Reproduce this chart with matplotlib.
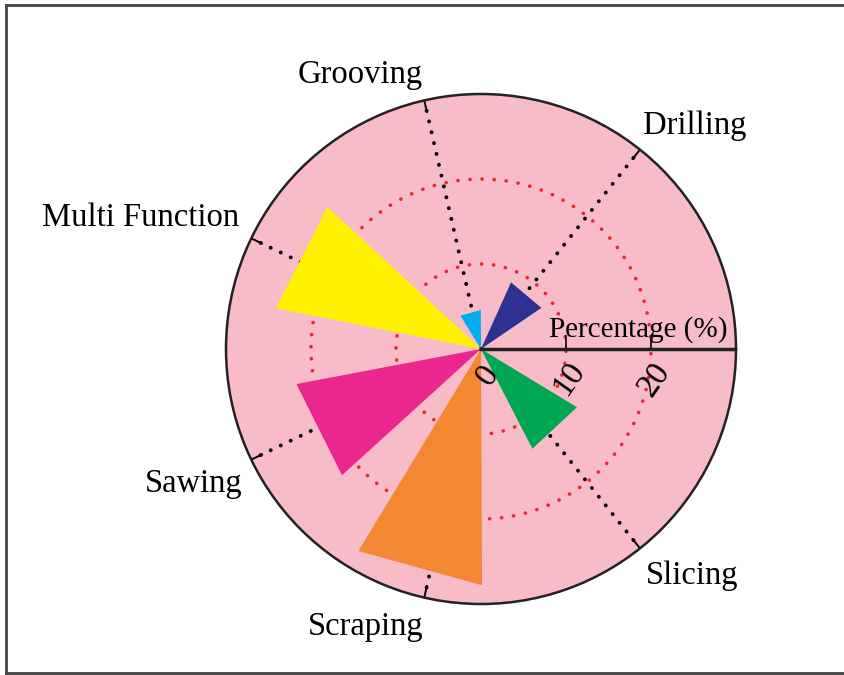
import numpy as np
import matplotlib
matplotlib.use("Agg")
import matplotlib.pyplot as plt
from matplotlib.lines import Line2D
from matplotlib.markers import TICKUP

plt.rcParams['font.family'] = ['Liberation Serif', 'DejaVu Serif']
plt.rcParams['lines.scale_dashes'] = False

# data
categories = ['Drilling', 'Grooving', 'Multi Function', 'Sawing', 'Scraping', 'Slicing']
percent = [8.6, 4.6, 24.6, 22.1, 27.8, 13.2]
bar_angle = [50, 106, 153, 206.5, 254.5, 313]   # degrees, centre of each wedge
colors = ['#2E3192', '#00AEEF', '#FFF200', '#EC268F', '#F48733', '#00A651']
rings = [10, 20]
rmax = 30
bar_width = 31.5

W, H = 845, 675
fig = plt.figure(figsize=(W / 100, H / 100), dpi=100)
cx, cy, R = 481, 349, 255
ax = fig.add_axes([(cx - R) / W, (H - cy - R) / H, 2 * R / W, 2 * R / H], projection='polar')
ax.set_facecolor('#F7BCC8')
ax.set_ylim(0, rmax)
ax.set_xticks([])
ax.set_yticks([])
ax.grid(False)
ax.spines['polar'].set_linewidth(1.8)
ax.spines['polar'].set_color('#222222')

# dotted rings
t = np.linspace(0, 2 * np.pi, 500)
for r in rings:
    ax.plot(t, np.full_like(t, r), color='#E8272A', lw=2.6,
            linestyle=(0, (0.1, 8.6)), dash_capstyle='round', zorder=2)

# dotted spokes and ticks at the rim
spokes = np.arange(1, 7) * 2 * np.pi / 7
for a in spokes:
    ax.plot([a, a], [0, rmax], color='black', lw=2.8,
            linestyle=(0, (0.1, 7.9)), dash_capstyle='round', zorder=2)
    ax.plot([a, a], [28.6, rmax], color='black', lw=1.4, zorder=2)

# wedges (straight-edged triangles)
for p, a, c in zip(percent, bar_angle, colors):
    a0 = np.deg2rad(a - bar_width / 2)
    a1 = np.deg2rad(a + bar_width / 2)
    ax.fill([0, a0, a1], [0, p, p], color=c, lw=0, zorder=3)

# radial axis line with ticks
ax.plot([0, 0], [0, rmax], color='#222222', lw=2.5, zorder=4)
ax.plot([0, 0], rings, linestyle='none', marker=TICKUP, markersize=10,
        markeredgewidth=1.4, color='#222222', zorder=4)

for r, off in zip([0] + rings, [(5, -19), (2, -21), (2.5, -22)]):
    ax.annotate(str(r), xy=(0, r), xytext=off, textcoords='offset points',
                ha='center', va='center', rotation=55, fontsize=24, zorder=5)
ax.annotate('Percentage (%)', xy=(0, 0), xytext=(49, 8.6), textcoords='offset points',
            ha='left', va='baseline', fontsize=21, zorder=5)

# category labels
label_pos = [(695, 126), (360, 75), (141, 218), (194, 484), (366, 627), (692, 576)]
for name, (x, y) in zip(categories, label_pos):
    fig.text(x / W, 1 - y / H, name, ha='center', va='center', fontsize=23.5)

# frame
for xs, ys in [([6 / W, 6 / W], [1 - 5 / H, 1 - 673 / H]),
               ([6 / W, 1], [1 - 5 / H, 1 - 5 / H]),
               ([6 / W, 1], [1 - 673 / H, 1 - 673 / H])]:
    fig.add_artist(Line2D(xs, ys, color='#444444', lw=2))

fig.savefig('out.png', dpi=100)
